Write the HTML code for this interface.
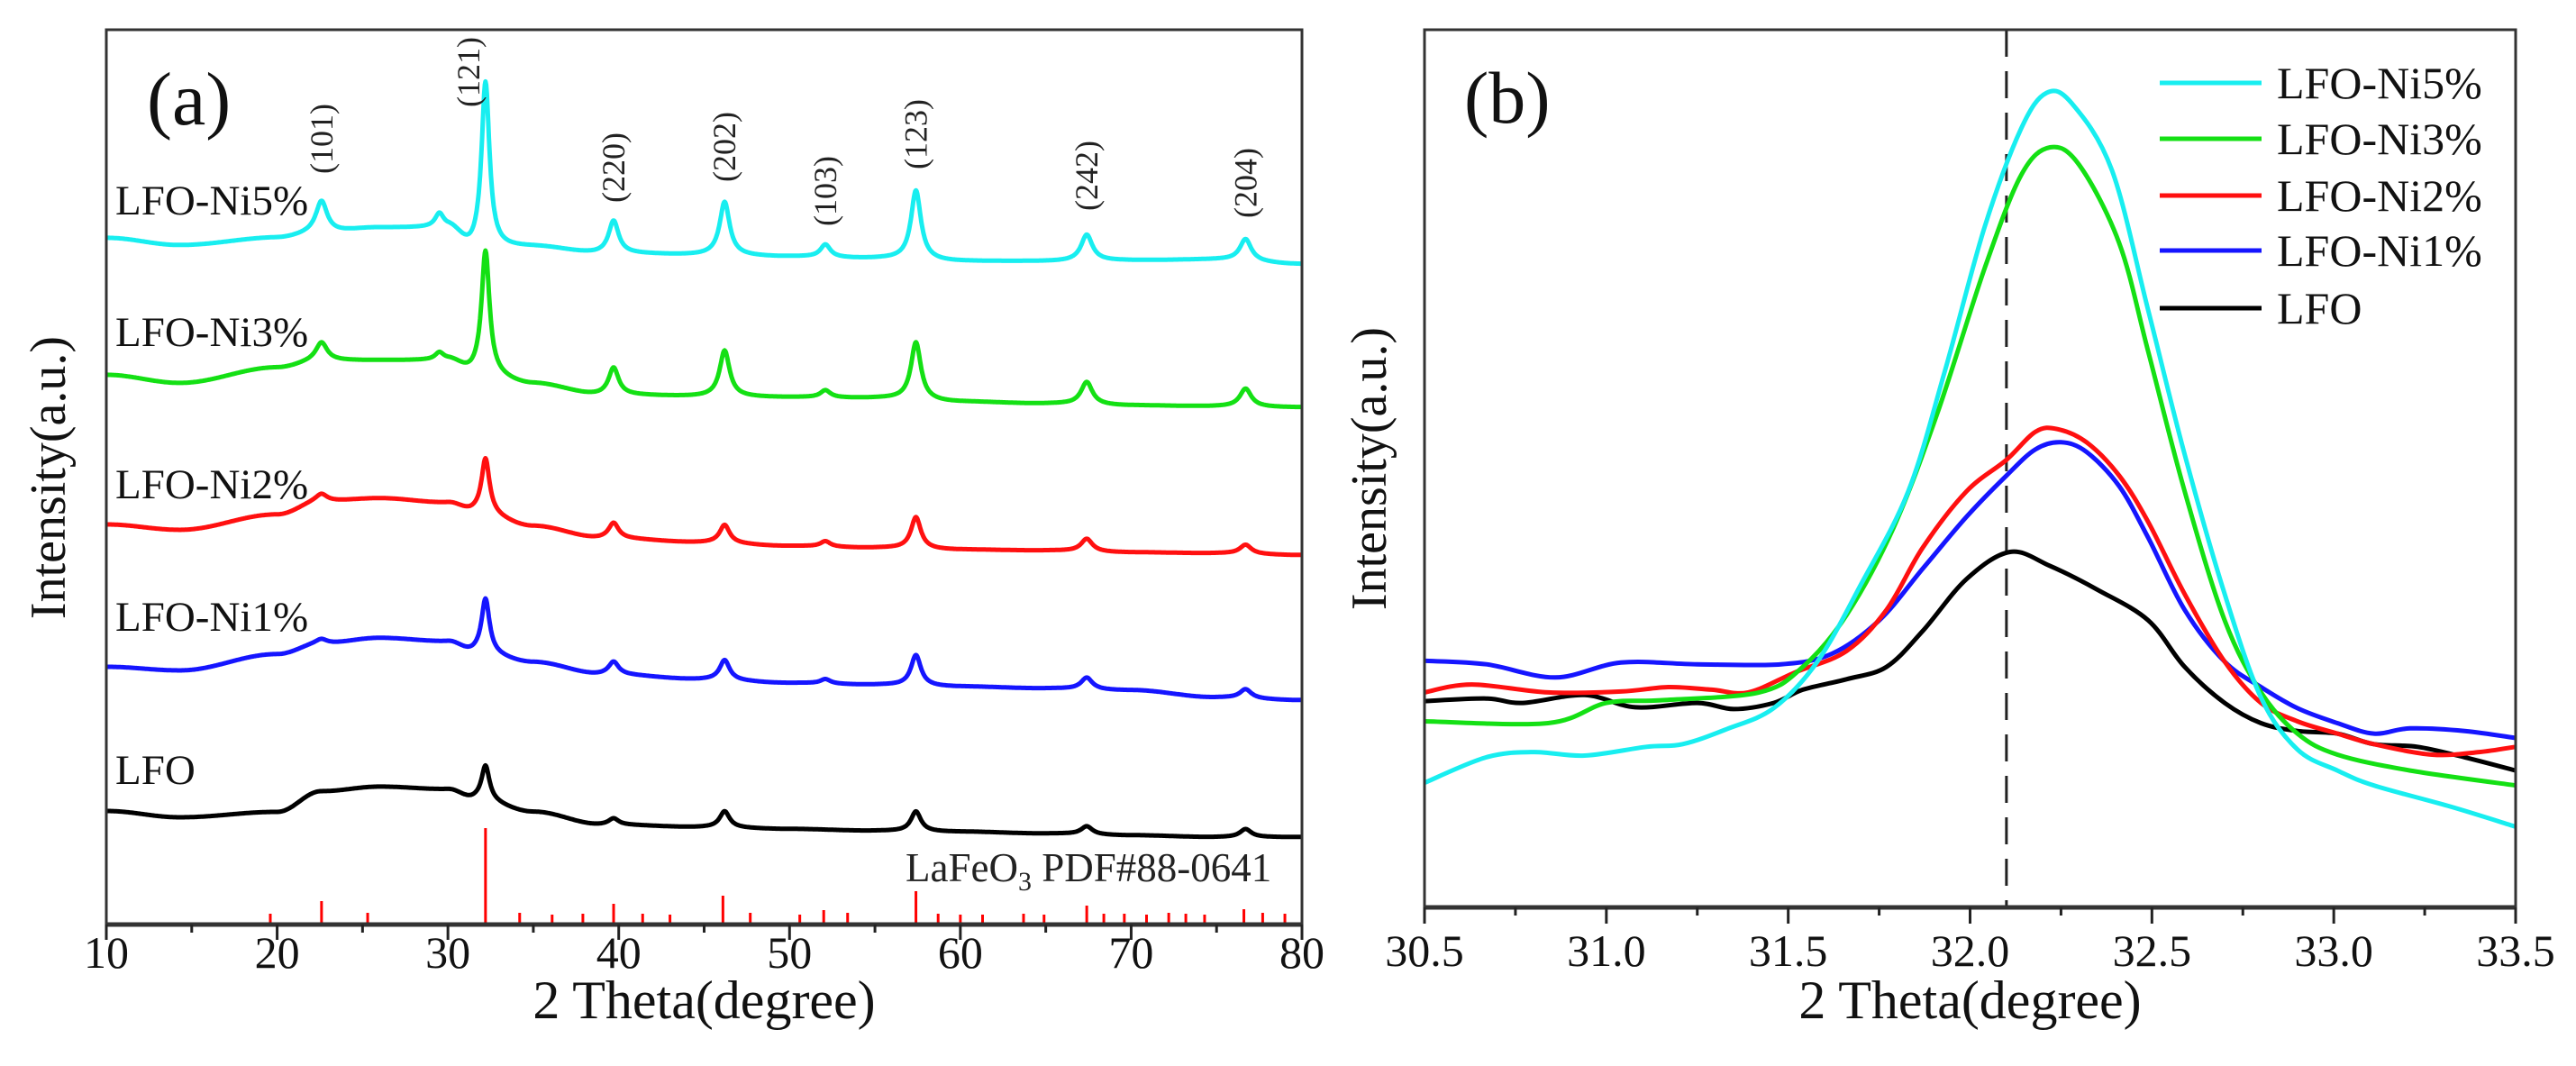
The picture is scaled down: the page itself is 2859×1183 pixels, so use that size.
<!DOCTYPE html>
<html><head><meta charset="utf-8"><style>
html,body{margin:0;padding:0;background:#fff;}
svg{display:block;font-family:"Liberation Serif","DejaVu Serif",serif;}
</style></head><body>
<svg id="fig" width="2859" height="1183" viewBox="0 0 2859 1183" xmlns="http://www.w3.org/2000/svg">
<g id="pa"></g>
<g id="pb"></g>
</svg>
<script>
// ---------- Panel (a) data ----------
const aSeries = ["LFO-Ni5%","LFO-Ni3%","LFO-Ni2%","LFO-Ni1%","LFO"];
const aColors = ["#18eef0","#14e014","#ff1010","#1515ff","#000000"];
const bgTheta = [10,14.3,20,22.6,26,30,31.5,35,39,45,50,55,60,65,70,75,80];
const bgNi5 = [762,754,762,768,773,773,750,752,745,743,741,739,736,736,737,738,733];
const bgNi3 = [610,601,618,626,626,626,613,600,588,586,585,584,580,578,576,575,574];
const bgNi2 = [444,438,455,470,473,468,459,442,429,424,420,418,416,415,413,412,410];
const bgNi1 = [286,282,300,312,318,314,303,291,278,272,268,266,264,262,260,252,249];
const bgLFO = [126,119,125,148,153,150,140,125,111,108,106,104,103,101,99,97,97];
const peakPos = [22.6,29.5,32.2,39.7,46.2,52.1,57.4,67.4,76.7];
const peakWidth = [0.4,0.3,0.28,0.35,0.35,0.35,0.35,0.4,0.4];
const pkNi5 = [35,15,185,36,59,14,77,29,24];
const pkNi3 = [20,8,136,30,51,8,64,25,20];
const pkNi2 = [8,0,60,17,20,6,35,14,10];
const pkNi1 = [5,0,60,14,22,5,34,13,10];
const pkLFO = [0,0,38,7,18,0,22,9,9];
const hklLabels = ["(101)","(121)","(220)","(202)","(103)","(123)","(242)","(204)"];
const hklTheta = [22.6,31.2,39.7,46.2,52.1,57.4,67.4,76.7];
const hklIntensity = [872,946,840,863,814,877,831,823];
const refTheta = [19.6,22.6,25.3,32.2,34.2,36.1,37.9,39.7,41.4,43.0,46.1,47.7,50.6,52.0,53.4,57.4,58.7,60.0,61.3,63.7,64.9,67.4,68.4,69.6,70.9,72.2,73.2,74.3,76.6,77.7,79.0,80];
const refHeight = [12,26,13,107,13,11,12,23,12,11,32,13,11,16,13,37,12,11,11,12,11,21,12,12,11,13,12,11,17,13,12,10];
const aXTicks = [10,20,30,40,50,60,70,80];
const aLabelIntensity = [804,658,489,342,172];

// ---------- Panel (b) data ----------
const bSeries = ["LFO-Ni5%","LFO-Ni3%","LFO-Ni2%","LFO-Ni1%","LFO"];
const bColors = ["#18eef0","#14e014","#ff1010","#1515ff","#000000"];
const bNi5X = [30.50,30.67,30.80,30.94,31.11,31.21,31.33,31.46,31.58,31.70,31.83,31.93,32.04,32.14,32.21,32.28,32.39,32.49,32.59,32.70,32.80,32.90,33.01,33.11,33.32,33.50];
const bNi5Y = [14.2,17.1,17.7,17.3,18.3,18.6,20.3,22.7,28,36.8,47.4,61,77.5,88.7,92.8,91.6,84,68,51.6,35.7,23.9,18,15.6,13.9,11.5,9.2];
const bNi3X = [30.50,30.84,31.00,31.15,31.42,31.54,31.66,31.79,31.91,32.04,32.14,32.22,32.30,32.41,32.49,32.59,32.70,32.80,32.90,33.01,33.21,33.50];
const bNi3Y = [21.2,21,23.3,23.6,24.5,27.4,33.3,43.3,56.3,72.8,83.4,86.6,84.6,75.7,63.3,47.4,32.7,24.5,19.8,17.4,15.6,13.9];
const bNi2X = [30.50,30.63,30.84,31.04,31.17,31.29,31.39,31.52,31.66,31.77,31.87,31.99,32.10,32.18,32.24,32.32,32.41,32.49,32.59,32.70,32.80,32.90,33.01,33.11,33.27,33.40,33.50];
const bNi2Y = [24.5,25.4,24.5,24.6,25.1,24.8,24.5,26.8,29.2,33.9,41,47.4,51,54.2,54.5,53,49.2,43.9,35.7,28,23.3,21.2,19.8,18.6,17.4,17.7,18.3];
const bNi1X = [30.50,30.67,30.86,31.04,31.25,31.48,31.62,31.75,31.87,31.99,32.10,32.18,32.25,32.32,32.41,32.49,32.59,32.70,32.80,32.90,33.01,33.11,33.21,33.36,33.50];
const bNi1Y = [28.1,27.7,26.2,27.9,27.7,27.7,28.9,32.7,38.6,44.5,49.2,52.2,53,51.9,48,42.1,33.9,28,25.1,22.7,21,19.8,20.4,20.1,19.3];
const bLFOX = [30.50,30.67,30.77,30.94,31.08,31.25,31.35,31.46,31.54,31.66,31.77,31.87,31.99,32.11,32.22,32.35,32.49,32.59,32.70,32.80,32.90,33.01,33.11,33.23,33.36,33.50];
const bLFOY = [23.5,23.8,23.3,24.2,22.8,23.3,22.6,23.3,24.8,26,27.4,31.5,37.4,40.5,38.9,36.2,32.7,27.4,23.3,21,20.1,19.8,18.6,18.3,17.1,15.6];
const bXTicks = ["30.5","31.0","31.5","32.0","32.5","33.0","33.5"];
const bRefLine = 32.1;

const NS = "http://www.w3.org/2000/svg";
function mk(parent, tag, attrs, text){
  const e = document.createElementNS(NS, tag);
  for (const k in attrs) e.setAttribute(k, attrs[k]);
  if (text !== undefined) e.textContent = text;
  parent.appendChild(e);
  return e;
}

// ---------- Panel (a) ----------
(function(){
  const g = document.getElementById('pa');
  const L=118, R=1445, T=33, B=1026;
  const ax = t => L + (t-10)/(70)*(R-L);
  const ay = v => B - v;
  const bgs = [bgNi5,bgNi3,bgNi2,bgNi1,bgLFO];
  const pks = [pkNi5,pkNi3,pkNi2,pkNi1,pkLFO];
  function bgAt(arr, t){
    for (let i=0;i<bgTheta.length-1;i++){
      if (t>=bgTheta[i] && t<=bgTheta[i+1]){
        const f=(t-bgTheta[i])/(bgTheta[i+1]-bgTheta[i]);
        const s=(1-Math.cos(f*Math.PI))/2;
        return arr[i]+(arr[i+1]-arr[i])*s;
      }
    }
    return arr[arr.length-1];
  }
  for (let s=0;s<aSeries.length;s++){
    let d="";
    for (let t=10;t<=80.0001;t+=0.04){
      let v=bgAt(bgs[s],t);
      for (let k=0;k<peakPos.length;k++){
        const z=(t-peakPos[k])/peakWidth[k];
        v+=pks[s][k]/(1+z*z);
      }
      d+=(d?"L":"M")+ax(t).toFixed(1)+","+ay(v).toFixed(1);
    }
    const p = mk(g,'path',{d:d,fill:'none',stroke:aColors[s],'stroke-width':5,'stroke-linejoin':'round'});
    
    
    const lb = mk(g,'text',{x:128,y:ay(aLabelIntensity[s])+16,'font-size':47,fill:'#111'},aSeries[s]);
    
    
  }
  for (let i=0;i<refTheta.length;i++){
    const r = mk(g,'line',{x1:ax(refTheta[i]),x2:ax(refTheta[i]),y1:B,y2:B-refHeight[i],stroke:'#ff0000','stroke-width':3});
    
    
  }
  for (let i=0;i<hklLabels.length;i++){
    const x=ax(hklTheta[i])+12, y=ay(hklIntensity[i]);
    const h = mk(g,'text',{x:x,y:y,'font-size':36,'text-anchor':'middle',fill:'#222',transform:`rotate(-90 ${x} ${y})`},hklLabels[i]);
    
    
  }
  const fr = mk(g,'rect',{x:L,y:T,width:R-L,height:B-T,fill:'none',stroke:'#333','stroke-width':3});
  
  
  mk(g,'line',{x1:L,x2:R,y1:B,y2:B,stroke:'#333','stroke-width':5});
  for (let t=10;t<=80;t+=5){
    const major = t%10===0;
    const tk = mk(g,'line',{x1:ax(t),x2:ax(t),y1:B,y2:B+(major?17:9),stroke:'#222','stroke-width':3});
    
    
  }
  for (const t of aXTicks){
    const tl = mk(g,'text',{x:ax(t),y:1074,'font-size':50,'text-anchor':'middle',fill:'#111'},String(t));
    
    
  }
  const xt = mk(g,'text',{x:(L+R)/2,y:1130,'font-size':60,'text-anchor':'middle',fill:'#111'},"2 Theta(degree)");
  
  
  const yt = mk(g,'text',{x:72,y:530,'font-size':56,'text-anchor':'middle',fill:'#111',transform:'rotate(-90 72 530)'},"Intensity(a.u.)");
  
  
  const pl = mk(g,'text',{x:163,y:138,'font-size':84,fill:'#111'},"(a)");
  
  
  const rt = mk(g,'text',{x:1005,y:978,'font-size':45,fill:'#222'});
  
  
  mk(rt,'tspan',{},"LaFeO");
  mk(rt,'tspan',{'font-size':30,dy:10},"3");
  mk(rt,'tspan',{dy:-10}," PDF#88-0641");
})();

// ---------- Panel (b) ----------
(function(){
  const g = document.getElementById('pb');
  const L=1581, R=2792, T=33, B=1007;
  const bx = t => L + (t-30.5)/3*(R-L);
  const by = v => B - v*9.74;
  const xs=[bNi5X,bNi3X,bNi2X,bNi1X,bLFOX], ys=[bNi5Y,bNi3Y,bNi2Y,bNi1Y,bLFOY];
  function smooth(pts){
    let d="M"+pts[0][0].toFixed(1)+","+pts[0][1].toFixed(1);
    for (let i=0;i<pts.length-1;i++){
      const p0=pts[Math.max(0,i-1)], p1=pts[i], p2=pts[i+1], p3=pts[Math.min(pts.length-1,i+2)];
      const c1=[p1[0]+(p2[0]-p0[0])/6, p1[1]+(p2[1]-p0[1])/6];
      const c2=[p2[0]-(p3[0]-p1[0])/6, p2[1]-(p3[1]-p1[1])/6];
      d+=`C${c1[0].toFixed(1)},${c1[1].toFixed(1)} ${c2[0].toFixed(1)},${c2[1].toFixed(1)} ${p2[0].toFixed(1)},${p2[1].toFixed(1)}`;
    }
    return d;
  }
  const dl = mk(g,'line',{x1:bx(bRefLine),x2:bx(bRefLine),y1:T,y2:B,stroke:'#222','stroke-width':3,'stroke-dasharray':'30,16'});
  
  
  for (let s=bSeries.length-1;s>=0;s--){
    const pts = xs[s].map((t,i)=>[bx(t),by(ys[s][i])]);
    const p = mk(g,'path',{d:smooth(pts),fill:'none',stroke:bColors[s],'stroke-width':5,'stroke-linejoin':'round'});
    
    
  }
  const legY=[92,154,217,278,342];
  for (let s=0;s<bSeries.length;s++){
    const le = mk(g,'g',{});
    
    
    mk(le,'line',{x1:2397,x2:2510,y1:legY[s],y2:legY[s],stroke:bColors[s],'stroke-width':5});
    mk(le,'text',{x:2527,y:legY[s]+17,'font-size':50,fill:'#111'},bSeries[s]);
  }
  const fr = mk(g,'rect',{x:L,y:T,width:R-L,height:B-T,fill:'none',stroke:'#333','stroke-width':3});
  
  
  mk(g,'line',{x1:L,x2:R,y1:B,y2:B,stroke:'#333','stroke-width':5});
  for (let i=0;i<=12;i++){
    const t=30.5+i*0.25, major=i%2===0;
    const tk = mk(g,'line',{x1:bx(t),x2:bx(t),y1:B,y2:B+(major?18:9),stroke:'#222','stroke-width':3});
    
    
  }
  for (const lab of bXTicks){
    const tl = mk(g,'text',{x:bx(parseFloat(lab)),y:1072,'font-size':50,'text-anchor':'middle',fill:'#111'},lab);
    
    
  }
  const xt = mk(g,'text',{x:(L+R)/2,y:1130,'font-size':60,'text-anchor':'middle',fill:'#111'},"2 Theta(degree)");
  
  
  const yt = mk(g,'text',{x:1538,y:520,'font-size':56,'text-anchor':'middle',fill:'#111',transform:'rotate(-90 1538 520)'},"Intensity(a.u.)");
  
  
  const pl = mk(g,'text',{x:1625,y:136,'font-size':82,fill:'#111'},"(b)");
  
  
})();
</script>
</body></html>
